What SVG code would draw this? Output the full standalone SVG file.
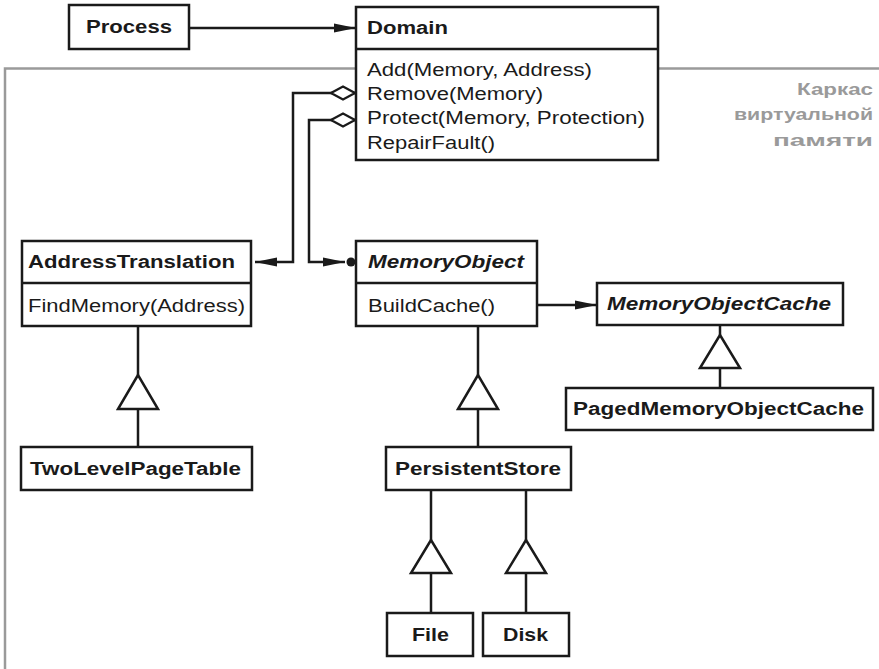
<svg xmlns="http://www.w3.org/2000/svg" width="879" height="669" viewBox="0 0 879 669">
<style>
  .box { fill: #ffffff; stroke: #1a1a1a; stroke-width: 2.5; }
  .div { stroke: #1a1a1a; stroke-width: 2.5; }
  .t { font-family: "Liberation Sans", Arial, sans-serif; font-size: 17.5px; fill: #1a1a1a; }
  .b { font-weight: bold; }
  .bi { font-weight: bold; font-style: italic; }
  .ln { fill: none; stroke: #1a1a1a; stroke-width: 2.5; }
  .tri { fill: #ffffff; stroke: #1a1a1a; stroke-width: 2.5; stroke-linejoin: miter; }
  .frame { fill: none; stroke: #9a9a9a; stroke-width: 2.5; }
  .g { font-family: "Liberation Sans", Arial, sans-serif; font-size: 16px; font-weight: bold; fill: #9a9a9a; }
</style>
<defs>
  <marker id="arrow" markerUnits="userSpaceOnUse" markerWidth="22" markerHeight="10" refX="22" refY="5" orient="auto">
    <path d="M0,0.5 L22,5 L0,9.5 z" fill="#1a1a1a"/>
  </marker>
  <marker id="diamond" markerUnits="userSpaceOnUse" markerWidth="28" markerHeight="18" refX="2" refY="9" orient="auto">
    <path d="M2,9 L14,2.5 L26,9 L14,15.5 z" fill="#ffffff" stroke="#1a1a1a" stroke-width="2.2"/>
  </marker>
</defs>

<path class="frame" d="M5,669 V68.5 H879"/>
<g id="frame-label">
  <text class="g" x="873" y="95" text-anchor="end" textLength="76" lengthAdjust="spacingAndGlyphs">Каркас</text>
  <text class="g" x="873" y="120" text-anchor="end" textLength="139" lengthAdjust="spacingAndGlyphs">виртуальной</text>
  <text class="g" x="873" y="146" text-anchor="end" textLength="100" lengthAdjust="spacingAndGlyphs">памяти</text>
</g>

<g id="connectors">
  <line class="ln" x1="189" y1="28" x2="356" y2="28" marker-end="url(#arrow)"/>
  <path class="ln" d="M355,93 H293 V262 H255" marker-start="url(#diamond)" marker-end="url(#arrow)"/>
  <path class="ln" d="M355,120 H309 V262 H345" marker-start="url(#diamond)" marker-end="url(#arrow)"/>
  <circle cx="351" cy="262" r="4.5" fill="#1a1a1a"/>
  <line class="ln" x1="537" y1="305" x2="597" y2="305" marker-end="url(#arrow)"/>
  <!-- inheritance AddressTranslation -->
  <line class="ln" x1="138" y1="326" x2="138" y2="375"/>
  <polygon class="tri" points="138,375 118,409 158,409"/>
  <line class="ln" x1="138" y1="409" x2="138" y2="447"/>
  <!-- inheritance MemoryObject -->
  <line class="ln" x1="478" y1="326" x2="478" y2="375"/>
  <polygon class="tri" points="478,375 458,409 498,409"/>
  <line class="ln" x1="478" y1="409" x2="478" y2="447"/>
  <!-- inheritance MemoryObjectCache -->
  <line class="ln" x1="720" y1="325" x2="720" y2="335"/>
  <polygon class="tri" points="720,335 700,368 740,368"/>
  <line class="ln" x1="720" y1="368" x2="720" y2="388"/>
  <!-- inheritance File -->
  <line class="ln" x1="431" y1="490" x2="431" y2="540"/>
  <polygon class="tri" points="431,540 411,573 451,573"/>
  <line class="ln" x1="431" y1="573" x2="431" y2="613"/>
  <!-- inheritance Disk -->
  <line class="ln" x1="526" y1="490" x2="526" y2="540"/>
  <polygon class="tri" points="526,540 506,573 546,573"/>
  <line class="ln" x1="526" y1="573" x2="526" y2="613"/>
</g>

<g id="process">
  <rect class="box" x="69" y="5" width="120" height="44"/>
  <text class="t b" x="86" y="33" textLength="86" lengthAdjust="spacingAndGlyphs">Process</text>
</g>

<g id="domain">
  <rect class="box" x="356" y="7" width="302" height="153"/>
  <line class="div" x1="356" y1="49" x2="658" y2="49"/>
  <text class="t b" x="367" y="34" textLength="81" lengthAdjust="spacingAndGlyphs">Domain</text>
  <text class="t" x="367" y="76" textLength="225" lengthAdjust="spacingAndGlyphs">Add(Memory, Address)</text>
  <text class="t" x="367" y="100" textLength="176" lengthAdjust="spacingAndGlyphs">Remove(Memory)</text>
  <text class="t" x="367" y="124" textLength="278" lengthAdjust="spacingAndGlyphs">Protect(Memory, Protection)</text>
  <text class="t" x="367" y="149" textLength="128" lengthAdjust="spacingAndGlyphs">RepairFault()</text>
</g>

<g id="address-translation">
  <rect class="box" x="22" y="241" width="229" height="85"/>
  <line class="div" x1="22" y1="283" x2="251" y2="283"/>
  <text class="t b" x="28" y="268" textLength="207" lengthAdjust="spacingAndGlyphs">AddressTranslation</text>
  <text class="t" x="28" y="312" textLength="217" lengthAdjust="spacingAndGlyphs">FindMemory(Address)</text>
</g>

<g id="memory-object">
  <rect class="box" x="356" y="241" width="181" height="85"/>
  <line class="div" x1="356" y1="283" x2="537" y2="283"/>
  <text class="t bi" x="368" y="268" textLength="156" lengthAdjust="spacingAndGlyphs">MemoryObject</text>
  <text class="t" x="368" y="312" textLength="127" lengthAdjust="spacingAndGlyphs">BuildCache()</text>
</g>

<g id="memory-object-cache">
  <rect class="box" x="597" y="283" width="246" height="42"/>
  <text class="t bi" x="607" y="310" textLength="224" lengthAdjust="spacingAndGlyphs">MemoryObjectCache</text>
</g>

<g id="paged-memory-object-cache">
  <rect class="box" x="566" y="388" width="307" height="42"/>
  <text class="t b" x="573" y="415" textLength="291" lengthAdjust="spacingAndGlyphs">PagedMemoryObjectCache</text>
</g>

<g id="two-level-page-table">
  <rect class="box" x="21" y="447" width="231" height="43"/>
  <text class="t b" x="30" y="475" textLength="211" lengthAdjust="spacingAndGlyphs">TwoLevelPageTable</text>
</g>

<g id="persistent-store">
  <rect class="box" x="386" y="447" width="185" height="43"/>
  <text class="t b" x="395" y="475" textLength="166" lengthAdjust="spacingAndGlyphs">PersistentStore</text>
</g>

<g id="file">
  <rect class="box" x="387" y="613" width="86" height="43"/>
  <text class="t b" x="412" y="641" textLength="37" lengthAdjust="spacingAndGlyphs">File</text>
</g>

<g id="disk">
  <rect class="box" x="483" y="613" width="86" height="43"/>
  <text class="t b" x="503" y="641" textLength="45" lengthAdjust="spacingAndGlyphs">Disk</text>
</g>
</svg>
